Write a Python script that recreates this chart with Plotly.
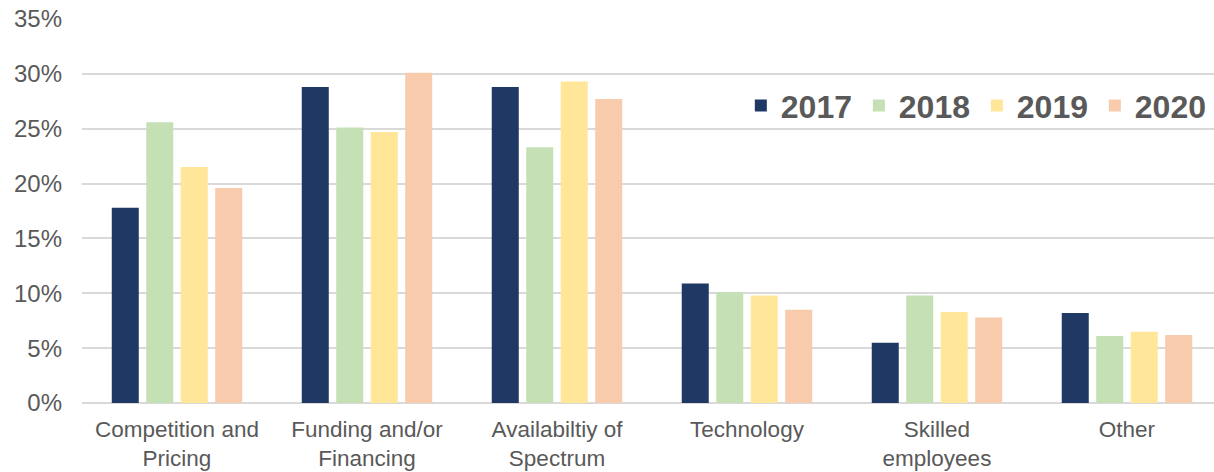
import plotly.graph_objects as go

categories = ["Competition and<br>Pricing", "Funding and/or<br>Financing", "Availabiltiy of<br>Spectrum",
              "Technology", "Skilled<br>employees", "Other"]
years = ["2017", "2018", "2019", "2020"]
v2017 = [17.8, 28.8, 28.8, 10.9, 5.5, 8.2]
v2018 = [25.6, 25.1, 23.3, 10.1, 9.8, 6.1]
v2019 = [21.5, 24.7, 29.3, 9.8, 8.3, 6.5]
v2020 = [19.6, 30.1, 27.7, 8.5, 7.8, 6.2]
series = [v2017, v2018, v2019, v2020]
colors = ["#203864", "#C5E0B4", "#FFE699", "#F8CBAD"]

fig = go.Figure()
for name, vals, col in zip(years, series, colors):
    fig.add_trace(go.Bar(x=categories, y=vals, name=name, marker=dict(color=col, line=dict(width=0))))

fig.update_layout(
    width=1214, height=472,
    margin=dict(l=82, r=0, t=19, b=69, autoexpand=False),
    plot_bgcolor="white", paper_bgcolor="white",
    barmode="group", bargap=0.274, bargroupgap=0.217,
    font=dict(family="Liberation Sans, Arial", color="#595959", size=24),
    legend=dict(orientation="h", x=0.582, xanchor="left", y=0.774, yanchor="middle",
                font=dict(size=32, color="#595959", family="Liberation Sans, Arial", weight="bold"),
                bgcolor="rgba(0,0,0,0)", entrywidth=73, entrywidthmode="pixels"),
    showlegend=True,
)
fig.update_xaxes(range=[-0.5, 5.458], showgrid=False, showline=False, ticks="", tickangle=0,
                 automargin=False, tickfont=dict(size=22.5, color="#595959"), ticklabelstandoff=10)
fig.update_yaxes(range=[0, 35], dtick=5, ticksuffix="%", showgrid=True, gridcolor="#D9D9D9", gridwidth=1.5,
                 zeroline=True, zerolinecolor="#D9D9D9", zerolinewidth=1.5, showline=False, automargin=False,
                 tickfont=dict(size=24, color="#595959"), ticks="", ticklabelstandoff=19)

fig.write_html("out.html", config={"displayModeBar": False},
               post_script="document.body.style.margin='0';")
